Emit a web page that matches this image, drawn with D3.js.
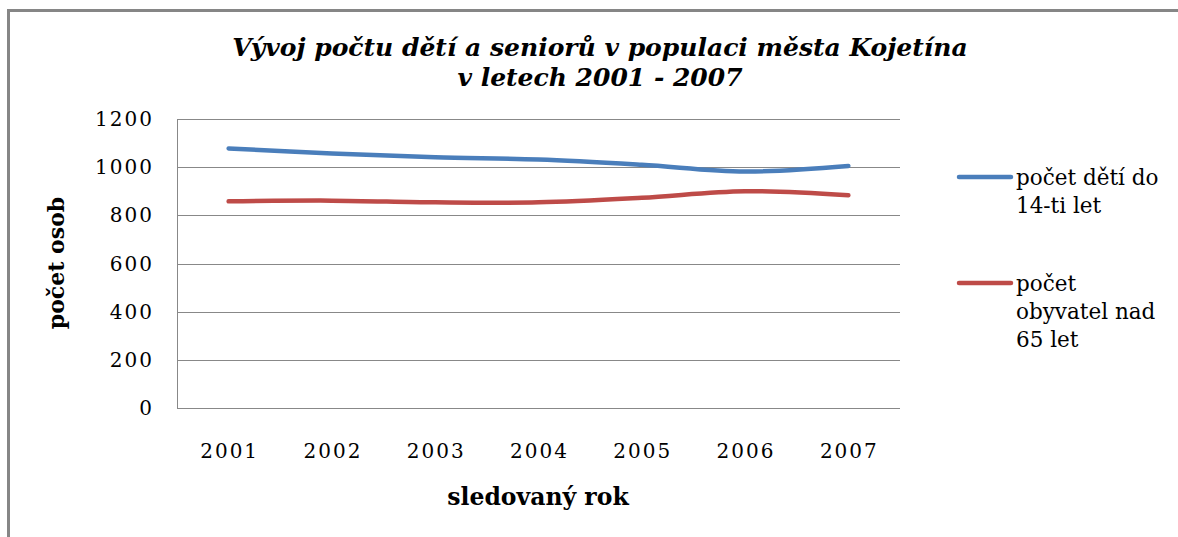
<!DOCTYPE html>
<html>
<head>
<meta charset="utf-8">
<script src="https://cdn.jsdelivr.net/npm/d3@7"></script>
<style>
  body { margin: 0; background: #fff; }
</style>
</head>
<body>
<div id="chart"></div>
<script>
// data
var years = ["2001", "2002", "2003", "2004", "2005", "2006", "2007"];
var deti = [1078, 1057, 1041, 1032, 1010, 982, 1005];
var seniori = [858, 861, 854, 854, 873, 900, 883];
var yTicks = [0, 200, 400, 600, 800, 1000, 1200];
var seriesNames = [["počet dětí do", "14-ti let"], ["počet", "obyvatel nad", "65 let"]];
var colors = ["#4a7ebb", "#be4b48"];

var FONT = "'DejaVu Serif', 'Liberation Serif', serif";

var W = 1178, H = 537;
var margin = {top: 119, right: 278, bottom: 129, left: 177},
    width = W - margin.left - margin.right,
    height = H - margin.top - margin.bottom;

var svg = d3.select("#chart").append("svg")
    .attr("width", W)
    .attr("height", H)
    .attr("font-family", FONT);

// outer frame (only top and left visible)
svg.append("path")
    .attr("d", "M8.5,537 L8.5,10.5 L1178,10.5")
    .attr("fill", "none")
    .attr("stroke", "#868686")
    .attr("stroke-width", 3);

// title
var title = svg.append("text")
    .attr("text-anchor", "middle")
    .style("font-weight", "bold")
    .style("font-style", "italic")
    .style("font-size", "25px");
title.append("tspan").attr("x", 600).attr("y", 56)
    .text("Vývoj počtu dětí a seniorů v populaci města Kojetína");
title.append("tspan").attr("x", 600).attr("y", 86)
    .text("v letech 2001 - 2007");

var g = svg.append("g")
    .attr("transform", "translate(" + margin.left + "," + margin.top + ")");

var x = d3.scaleBand()
    .domain(years)
    .range([0, width]);

var y = d3.scaleLinear()
    .domain([0, 1200])
    .range([height, 0]);

// gridlines
g.selectAll(".grid")
    .data(yTicks)
    .enter()
    .append("line")
      .attr("x1", 0)
      .attr("x2", width)
      .attr("y1", function(d) { return Math.round(y(d)) + 0.5; })
      .attr("y2", function(d) { return Math.round(y(d)) + 0.5; })
      .attr("stroke", "#888")
      .attr("stroke-width", 1);

// left axis line
g.append("line")
    .attr("x1", 0.5).attr("x2", 0.5)
    .attr("y1", 0).attr("y2", height)
    .attr("stroke", "#888");

// y tick labels (trailing letter-spacing compensated)
g.selectAll(".ylab")
    .data(yTicks)
    .enter()
    .append("text")
      .attr("x", -23)
      .attr("y", function(d) { return y(d); })
      .attr("dy", "0.35em")
      .attr("text-anchor", "end")
      .style("font-size", "20px")
      .style("letter-spacing", "2px")
      .text(function(d) { return d; });

// x tick labels
g.selectAll(".xlab")
    .data(years)
    .enter()
    .append("text")
      .attr("x", function(d) { return x(d) + x.bandwidth() / 2 + 1; })
      .attr("y", height + 50)
      .attr("text-anchor", "middle")
      .style("font-size", "20px")
      .style("letter-spacing", "2px")
      .text(function(d) { return d; });

// axis titles
svg.append("text")
    .attr("transform", "translate(64,263) rotate(-90)")
    .attr("text-anchor", "middle")
    .style("font-weight", "bold")
    .style("font-size", "22px")
    .text("počet osob");

svg.append("text")
    .attr("x", 538)
    .attr("y", 505)
    .attr("text-anchor", "middle")
    .style("font-weight", "bold")
    .style("font-size", "23.5px")
    .text("sledovaný rok");

// lines
var line = d3.line()
    .x(function(d, i) { return x(years[i]) + x.bandwidth() / 2; })
    .y(function(d) { return y(d); })
    .curve(d3.curveCatmullRom);

[deti, seniori].forEach(function(s, i) {
  g.append("path")
      .datum(s)
      .attr("fill", "none")
      .attr("stroke", colors[i])
      .attr("stroke-width", 4.5)
      .attr("stroke-linecap", "round")
      .attr("d", line);
});

// legend
var legendY = [177, 283];
seriesNames.forEach(function(lines, i) {
  svg.append("line")
      .attr("x1", 959).attr("x2", 1011)
      .attr("y1", legendY[i]).attr("y2", legendY[i])
      .attr("stroke", colors[i])
      .attr("stroke-width", 4.5)
      .attr("stroke-linecap", "round");
  var t = svg.append("text").style("font-size", "21.5px");
  lines.forEach(function(l, j) {
    t.append("tspan")
        .attr("x", 1016)
        .attr("y", legendY[i] + 8 + j * 28)
        .text(l);
  });
});
</script>
</body>
</html>
